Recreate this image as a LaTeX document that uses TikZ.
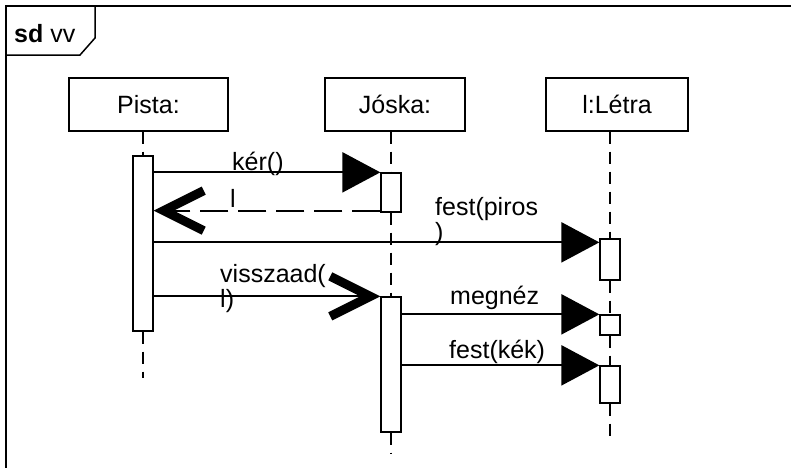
\documentclass[tikz,border=0pt]{standalone}
\usepackage{fontspec}
\setmainfont{Liberation Sans}
\usetikzlibrary{arrows.meta,calc}
\begin{document}
\begin{tikzpicture}[x=1pt,y=-1pt,
  head/.style={draw, line width=1.3pt, minimum width=#1, minimum height=53pt, inner sep=0pt, font=\fontsize{25}{25}\selectfont},
  act/.style={draw, line width=1.3pt, fill=white, minimum width=20pt, minimum height=#1, inner sep=0pt},
  life/.style={line width=2pt, dash pattern=on 12pt off 8pt},
  msg/.style={line width=2.2pt, -{Triangle[length=38pt,width=40pt]}},
  retmsg/.style={line width=2.2pt, dash pattern=on 28pt off 10pt, -{Straight Barb[length=40pt,width=40pt,line width=9pt]}},
  opnmsg/.style={line width=2.2pt, -{Straight Barb[length=40pt,width=40pt,line width=9pt]}},
  lbl/.style={font=\fontsize{25}{25}\selectfont, anchor=base west, inner sep=0pt, align=left},
]
\useasboundingbox (0,0) rectangle (791,467);
% frame
\draw[line width=2pt] (6,470) -- (6,6) -- (795,6);
\draw[line width=1.5pt] (6,55) -- (80,55) -- (95,38) -- (95,6);
\node[lbl] (title) at (14,42) {\textbf{sd} vv};
% heads
\node[head=159pt] (pista) at (148.5,104.5) {Pista:};
\node[head=140pt] (joska) at (395,104.5) {Jóska:};
\node[head=142pt] (letra) at (617,104.5) {l:Létra};
% activations
\node[act=175pt] (pa) at (143,243.5) {};
\node[act=39pt] (ja1) at (391,192.5) {};
\node[act=135pt] (ja2) at (391,364.5) {};
\node[act=41pt] (la1) at (610,259.5) {};
\node[act=20pt] (la2) at (610,325) {};
\node[act=37pt] (la3) at (610,384.5) {};
\coordinate (pend) at (143,378);
\coordinate (jend) at (391,453);
\coordinate (lend) at (610,443);
% lifelines
\draw[life] (pista.south -| pa) -- (pa.north);
\draw[life] (pa.south) -- (pend);
\draw[life] (joska.south -| ja1) -- (ja1.north);
\draw[life] (ja1.south) -- (ja2.north);
\draw[life] (ja2.south) -- (jend);
\draw[life] (letra.south -| la1) -- (la1.north);
\draw[life] (la1.south) -- (la2.north);
\draw[life] (la2.south) -- (la3.north);
\draw[life] (la3.south) -- (lend);
% messages
\draw[msg] (pa.east |- ja1.north) -- (ja1.north west);
\draw[retmsg] ([yshift=2pt]ja1.south west) -- ([yshift=2pt]pa.east |- ja1.south west);
\draw[msg] ([yshift=-4pt]pa.east |- la1.north) -- ([yshift=-4pt]la1.north west);
\draw[opnmsg] (pa.east |- ja2.north) -- (ja2.north west);
\draw[msg] (ja2.east |- la2.north) -- (la2.north west);
\draw[msg] (ja2.east |- la3.north) -- (la3.north west);
% labels
\node[lbl] (l1) at (232,170) {kér()};
\node[lbl] (l2) at (230,207) {l};
\node[lbl] (l3) at (435,240) {fest(piros\\)};
\node[lbl] (l4) at (220,307) {visszaad(\\l)};
\node[lbl] (l5) at (450,304) {megnéz};
\node[lbl] (l6) at (449,358) {fest(kék)};
\end{tikzpicture}
\end{document}
